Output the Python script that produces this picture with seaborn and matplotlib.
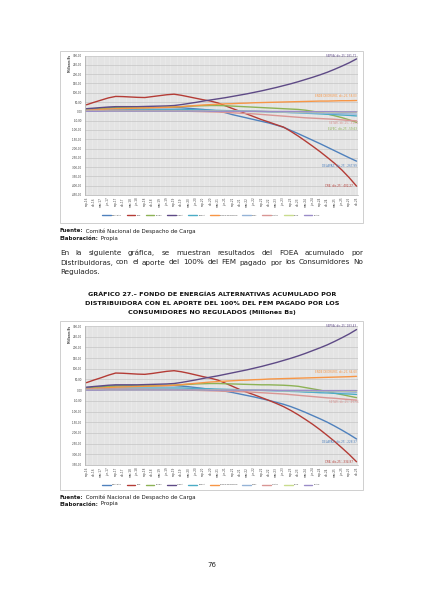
import numpy as np
import pandas as pd
import matplotlib
matplotlib.use("Agg")
import matplotlib.pyplot as plt
import seaborn as sns
from matplotlib.patches import Rectangle
from matplotlib.ticker import FuncFormatter, MultipleLocator

W, H = 424, 600

QUARTERS = ["sep-16", "dic-16",
            "mar-17", "jun-17", "sep-17", "dic-17",
            "mar-18", "jun-18", "sep-18", "dic-18",
            "mar-19", "jun-19", "sep-19", "dic-19",
            "mar-20", "jun-20", "sep-20", "dic-20",
            "mar-21", "jun-21", "sep-21", "dic-21",
            "mar-22", "jun-22", "sep-22", "dic-22",
            "mar-23", "jun-23", "sep-23", "dic-23",
            "mar-24", "jun-24", "sep-24", "dic-24",
            "mar-25", "jun-25", "sep-25", "dic-25"]

SERIES = ["DELAPAZ", "CRE", "ELFEC", "SEPSA", "CESSA",
          "ENDE DEORURO", "EDEL", "SETAR", "ELFP", "ECAM"]
COLORS = ["#4F81BD", "#B43C36", "#8DB255", "#5E4A86", "#4BACC6",
          "#F79646", "#95B3D7", "#D99694", "#C9DC8E", "#9A8CC8"]

# grafico 26 - FOEA acumulado (Millones Bs)
g1_delapaz = [10, 13, 16, 19, 21, 21, 21, 20, 20, 20, 20, 20, 20, 19, 16, 13, 10, 6, 2, -7,
              -18, -27, -36, -45, -54, -63, -74, -86, -103, -120, -138, -156, -174, -193, -212, -231, -250, -267.99]
g1_cre = [35, 48, 60, 72, 80, 79, 77, 75, 74, 79, 84, 89, 92, 86, 78, 70, 62, 55, 45, 30,
          15, 0, -15, -30, -45, -58, -72, -85, -108, -133, -160, -188, -217, -248, -280, -316, -357, -402.27]
g1_elfec = [8, 11, 14, 17, 19, 20, 20, 20, 20, 21, 22, 23, 24, 25, 27, 29, 30, 31, 31, 30,
            28, 26, 24, 22, 20, 18, 16, 14, 12, 10, 6, 0, -7, -15, -24, -34, -46, -59.63]
g1_sepsa = [14, 17, 20, 23, 25, 25, 25, 25, 26, 27, 28, 29, 31, 36, 42, 48, 55, 61, 67, 73,
            80, 87, 94, 102, 110, 119, 128, 138, 148, 159, 171, 183, 196, 210, 226, 243, 261, 281.71]
g1_cessa = [6, 7, 8, 9, 10, 10, 10, 10, 10, 10, 10, 10, 10, 10, 9, 8, 7, 6, 5, 4,
            3, 2, 1, 0, -1, -2, -4, -5, -7, -8, -10, -12, -14, -16, -18, -20, -22, -25]
g1_ende = [5, 8, 10, 12, 14, 15, 16, 17, 18, 19, 20, 21, 23, 25, 28, 31, 34, 36, 38, 40,
           41, 43, 44, 46, 47, 48, 49, 50, 51, 52, 53, 54, 55, 55, 56, 57, 57, 58.03]
g1_edel = [2, 3, 3, 4, 4, 4, 4, 4, 4, 4, 4, 4, 4, 4, 3, 3, 2, 2, 1, 1,
           0, 0, -1, -1, -2, -3, -4, -5, -6, -7, -8, -9, -10, -11, -12, -13, -14, -15]
g1_setar = [5, 5, 5, 5, 5, 5, 4, 4, 4, 3, 3, 3, 2, 1, 0, -1, -2, -3, -4, -6,
            -8, -10, -12, -14, -17, -20, -23, -26, -29, -32, -35, -37, -39, -41, -43, -46, -49, -51.51]
g1_elfp = [1, 1, 1, 2, 2, 2, 2, 2, 2, 2, 2, 2, 2, 2, 2, 1, 1, 1, 1, 0,
           0, 0, 0, -1, -1, -1, -2, -2, -2, -3, -3, -3, -4, -4, -4, -5, -5, -5]
g1_ecam = [0, 0, 0, 1, 1, 1, 1, 1, 1, 1, 1, 1, 1, 1, 1, 1, 1, 0, 0, 0,
           0, 0, 0, 0, 0, -1, -1, -1, -1, -1, -2, -2, -2, -2, -2, -3, -3, -3]

# grafico 27 - con el aporte del 100% del FEM de consumidores no regulados
g2_delapaz = [10, 13, 16, 19, 21, 21, 21, 21, 21, 21, 21, 21, 21, 19, 16, 12, 8, 4, 0, -5,
              -11, -18, -25, -32, -40, -48, -57, -66, -77, -90, -104, -119, -134, -150, -168, -187, -207, -228.37]
g2_cre = [35, 47, 58, 70, 80, 79, 77, 75, 74, 78, 83, 88, 91, 86, 79, 71, 63, 56, 47, 33,
          18, 3, -10, -22, -35, -48, -62, -77, -95, -115, -137, -160, -185, -212, -240, -270, -301, -334.87]
g2_elfec = [8, 11, 14, 17, 19, 20, 20, 20, 20, 21, 22, 23, 24, 25, 27, 29, 30, 31, 31, 30,
            29, 28, 27, 26, 25, 25, 24, 23, 21, 18, 12, 6, 0, -7, -14, -21, -28, -35]
g2_sepsa = [14, 17, 20, 23, 25, 25, 25, 25, 26, 27, 28, 29, 31, 36, 42, 48, 55, 61, 67, 74,
            81, 88, 95, 103, 111, 120, 129, 139, 149, 160, 172, 185, 198, 212, 228, 245, 263, 283.43]
g2_cessa = [6, 7, 8, 9, 10, 10, 10, 10, 10, 10, 10, 10, 10, 10, 9, 8, 7, 6, 5, 4,
            3, 2, 1, 0, -1, -2, -3, -4, -6, -7, -9, -10, -12, -13, -15, -17, -18, -20]
g2_ende = [5, 8, 10, 12, 14, 15, 16, 17, 18, 19, 20, 21, 23, 26, 29, 32, 35, 38, 40, 42,
           44, 46, 47, 49, 50, 52, 53, 54, 55, 56, 57, 58, 59, 60, 61, 62, 63, 64.60]
g2_edel = [2, 3, 3, 4, 4, 4, 4, 4, 4, 4, 4, 4, 4, 4, 3, 3, 2, 2, 1, 1,
           0, 0, 0, -1, -1, -2, -2, -3, -4, -4, -5, -6, -6, -7, -8, -8, -9, -10]
g2_setar = [5, 5, 5, 5, 5, 5, 4, 4, 4, 3, 3, 3, 2, 1, 0, -1, -2, -3, -4, -5,
            -6, -7, -8, -10, -12, -14, -16, -18, -21, -24, -27, -30, -33, -36, -38, -41, -44, -46.64]
g2_elfp = [1, 1, 1, 2, 2, 2, 2, 2, 2, 2, 2, 2, 2, 2, 2, 1, 1, 1, 1, 0,
           0, 0, 0, -1, -1, -1, -1, -2, -2, -2, -2, -3, -3, -3, -3, -4, -4, -4]
g2_ecam = [0, 0, 0, 1, 1, 1, 1, 1, 1, 1, 1, 1, 1, 1, 1, 1, 1, 0, 0, 0,
           0, 0, 0, 0, 0, 0, -1, -1, -1, -1, -1, -1, -2, -2, -2, -2, -2, -2]

G1 = [g1_delapaz, g1_cre, g1_elfec, g1_sepsa, g1_cessa, g1_ende, g1_edel, g1_setar, g1_elfp, g1_ecam]
G2 = [g2_delapaz, g2_cre, g2_elfec, g2_sepsa, g2_cessa, g2_ende, g2_edel, g2_setar, g2_elfp, g2_ecam]

PARRAFO = ["En la siguiente gráfica, se muestran resultados del FOEA acumulado por",
           "Distribuidoras, con el aporte del 100% del FEM pagado por los Consumidores No",
           "Regulados."]
TITULO = ["GRÁFICO 27.– FONDO DE ENERGÍAS ALTERNATIVAS ACUMULADO POR",
          "DISTRIBUIDORA CON EL APORTE DEL 100% DEL FEM PAGADO POR LOS",
          "CONSUMIDORES NO REGULADOS (Millones Bs)"]

sns.set_theme(style="white")
plt.rcParams['font.family'] = ['DejaVu Sans']

fig = plt.figure(figsize=(W / 100, H / 100), dpi=100)
fig.patch.set_facecolor('white')
renderer = fig.canvas.get_renderer()


def fx(x):
    return x / W


def fy(y):
    return 1 - y / H


def text_width(s, **kw):
    t = fig.text(0, 0, s, **kw)
    w = t.get_window_extent(renderer).width
    t.remove()
    return w


def bold_lead(x, y, lead, rest, size):
    fig.text(fx(x), fy(y), lead, fontsize=size, fontweight='bold', va='center', color='#1a1a1a')
    w = text_width(lead, fontsize=size, fontweight='bold')
    fig.text(fx(x + w), fy(y), rest, fontsize=size, va='center', color='#1a1a1a')


def justified(lines, x0, x1, y0, dy):
    # pick the size so the longest line almost fills the column
    longest = max(lines, key=lambda s: text_width(s, fontsize=5))
    size = 5 * (x1 - x0) * 0.975 / text_width(longest, fontsize=5)
    for i, line in enumerate(lines):
        y = y0 + i * dy
        if i == len(lines) - 1:
            fig.text(fx(x0), fy(y), line, fontsize=size, va='center', color='#222222')
            continue
        words = line.split()
        widths = [text_width(w, fontsize=size) for w in words]
        gap = (x1 - x0 - sum(widths)) / (len(words) - 1)
        x = x0
        for w, wd in zip(words, widths):
            fig.text(fx(x), fy(y), w, fontsize=size, va='center', color='#222222')
            x += wd + gap


def draw_chart(box, plot, values, ylo, yhi, legend_y, end_labels):
    bx0, by0, bx1, by1 = box
    fig.patches.append(Rectangle((fx(bx0), fy(by1)), fx(bx1 - bx0), (by1 - by0) / H,
                                 transform=fig.transFigure, fill=False,
                                 edgecolor='#c8c8c8', lw=0.6))
    px0, py0, px1, py1 = plot
    ax = fig.add_axes([fx(px0), fy(py1), fx(px1 - px0), (py1 - py0) / H])

    rows = []
    for name, vals in zip(SERIES, values):
        for i, v in enumerate(vals):
            rows.append({'idx': i, 'valor': v, 'serie': name})
    df = pd.DataFrame(rows)
    pal = dict(zip(SERIES, COLORS))
    sns.lineplot(data=df, x='idx', y='valor', hue='serie', hue_order=SERIES,
                 palette=pal, lw=1.0, ax=ax, legend=True)

    ax.set_facecolor('#e9e9e9')
    ax.set_xlim(-0.2, len(QUARTERS) - 0.8)
    ax.set_ylim(ylo, yhi)
    ax.set_xticks(range(len(QUARTERS)))
    ax.set_xticklabels(QUARTERS, rotation=90, fontsize=2.0, color='#404040')
    ax.set_xticks(np.arange(0, len(QUARTERS) - 1 + 0.01, 1 / 3), minor=True)
    ax.yaxis.set_major_locator(MultipleLocator(50))
    ax.yaxis.set_major_formatter(FuncFormatter(lambda v, p: f"{v:.2f}".replace('.', ',')))
    ax.tick_params(axis='y', labelsize=2.0, labelcolor='#404040', length=0, pad=2)
    ax.tick_params(axis='x', which='both', length=0, pad=1.5)
    ax.grid(True, axis='x', which='both', color='#d2d2d2', lw=0.3)
    ax.grid(True, axis='y', which='major', color='#bdbdbd', lw=0.4)
    ax.set_axisbelow(True)
    ax.set_xlabel('')
    ax.set_ylabel('')
    for s in ['top', 'right']:
        ax.spines[s].set_visible(False)
    for s in ['left', 'bottom']:
        ax.spines[s].set_color('#9a9a9a')
        ax.spines[s].set_linewidth(0.4)

    fig.text(fx(px0 - 15), fy(py0 + 8), 'Millones Bs', rotation=90, fontsize=1.9,
             fontweight='bold', ha='center', va='center', color='#404040')

    handles, labels = ax.get_legend_handles_labels()
    ax.get_legend().remove()
    leg = ax.legend(handles, labels, loc='center', bbox_to_anchor=(fx(211), fy(legend_y)),
                    bbox_transform=fig.transFigure, ncol=len(SERIES), frameon=False,
                    fontsize=1.5, handlelength=4.2, handletextpad=0.6, columnspacing=2.2)
    for t in leg.get_texts():
        t.set_color('#404040')

    last = len(QUARTERS) - 1
    for name, dx, dy in end_labels:
        k = SERIES.index(name)
        v = values[k][-1]
        label = f"{name}; {QUARTERS[-1]}; {v:.2f}".replace('.', ',')
        ax.annotate(label, xy=(last, v), xytext=(dx, dy), textcoords='offset points',
                    ha='right', va='center', fontsize=2.0, color=COLORS[k])
    return ax


draw_chart((60, 50.7, 363, 222.7), (85, 55.5, 358, 195), G1, -450, 300, 215,
           [("SEPSA", 0, 2.2), ("ENDE DEORURO", 0, 2.9), ("SETAR", 1.5, -1.8),
            ("ELFEC", 0, -4.8), ("DELAPAZ", 0, -3.6), ("CRE", -2.5, 0)])
bold_lead(60, 231, 'Fuente:', ' Comité Nacional de Despacho de Carga', 4.0)
bold_lead(60, 238, 'Elaboración:', ' Propia', 4.0)

justified(PARRAFO, 60, 363, 253, 9.5)

for i, line in enumerate(TITULO):
    fig.text(fx(212), fy(294 + i * 9.5), line, fontsize=4.6, fontweight='bold',
             ha='center', va='center', color='#111111')

draw_chart((60, 321, 363, 490), (85, 326, 358, 465), G2, -350, 300, 484.5,
           [("SEPSA", 0, 2.2), ("ENDE DEORURO", 0, 3.3), ("SETAR", 1.5, -1.1),
            ("DELAPAZ", 0, -2.5), ("CRE", -2.5, 0)])
bold_lead(60, 497.5, 'Fuente:', ' Comité Nacional de Despacho de Carga', 4.0)
bold_lead(60, 504, 'Elaboración:', ' Propia', 4.0)

fig.text(fx(212), fy(565), '76', fontsize=5.0, ha='center', va='center', color='#222222')

fig.savefig('out.png', dpi=100, facecolor='white')
